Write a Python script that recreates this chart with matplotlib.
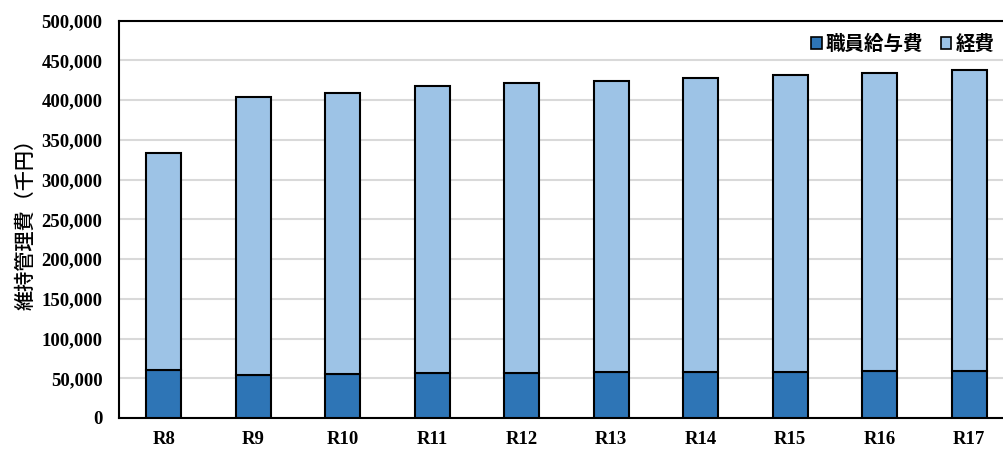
import numpy as np
import matplotlib.pyplot as plt
from matplotlib.ticker import FuncFormatter

# 年度別 維持管理費（千円）
years = ['R8', 'R9', 'R10', 'R11', 'R12', 'R13', 'R14', 'R15', 'R16', 'R17']
salary = [61000, 53700, 55000, 56600, 56600, 57500, 57900, 57900, 59100, 59100]
total = [333700, 403200, 408900, 417700, 421400, 423600, 427300, 431500, 434000, 437800]
expense = [t - s for t, s in zip(total, salary)]

plt.rcParams['font.family'] = ['Noto Sans CJK JP', 'DejaVu Sans']

fig = plt.figure(figsize=(10.04, 4.51), dpi=100)
ax = fig.add_axes([119 / 1004, 1 - 418 / 451, 895 / 1004, 397.5 / 451])

x = np.arange(len(years))
w = 0.39
ax.bar(x, salary, w, color='#2E75B6', edgecolor='black', linewidth=1.5,
       label='職員給与費', zorder=3)
ax.bar(x, expense, w, bottom=salary, color='#9DC3E6', edgecolor='black',
       linewidth=1.5, label='経費', zorder=3)

ax.set_xlim(-0.5, len(years) - 0.5)
ax.set_ylim(0, 500000)
ax.set_yticks(np.arange(0, 500001, 50000))
ax.yaxis.set_major_formatter(FuncFormatter(lambda v, p: f'{int(v):,}'))
ax.set_xticks(x)
ax.set_xticklabels(years)
for lab in ax.get_xticklabels() + ax.get_yticklabels():
    lab.set_fontfamily('Liberation Serif')
    lab.set_fontweight('bold')
    lab.set_fontsize(13.5)
ax.tick_params(axis='y', length=0, pad=12)
ax.tick_params(axis='x', length=0, pad=9)

ax.grid(axis='y', color='#d9d9d9', linewidth=1.5, zorder=0)
ax.spines['right'].set_visible(False)
for s in ['left', 'top', 'bottom']:
    ax.spines[s].set_linewidth(1.5)

ax.set_ylabel('維持管理費（千円）', fontsize=14.5, fontweight='medium', labelpad=4)

leg = ax.legend(loc='center right', bbox_to_anchor=(1.0, 1 - 44 / 451),
                bbox_transform=fig.transFigure, ncol=2, frameon=False,
                prop={'size': 14, 'weight': 'bold'},
                handlelength=0.55, handleheight=0.55,
                handletextpad=0.2, columnspacing=0.9, borderaxespad=0.1)
for h in leg.legend_handles:
    h.set_linewidth(1.2)

fig.savefig('out.png', dpi=100)
